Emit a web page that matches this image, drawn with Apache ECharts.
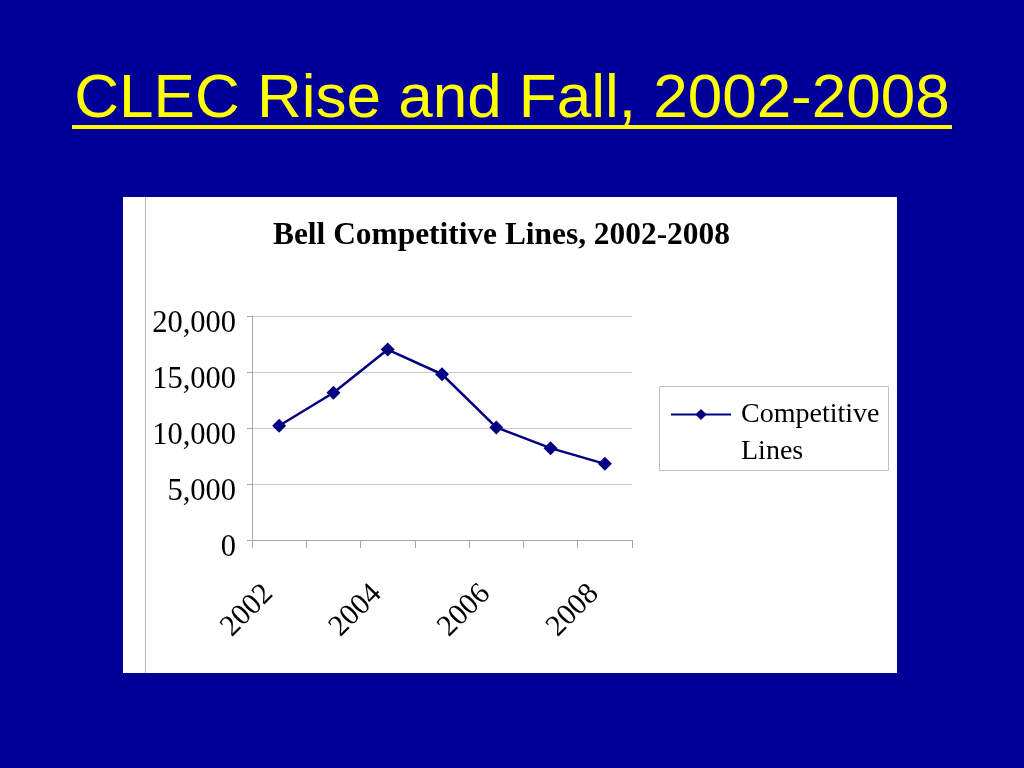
<!DOCTYPE html>
<html><head><meta charset="utf-8">
<script src="https://cdn.jsdelivr.net/npm/echarts@6/dist/echarts.min.js"></script>
<style>html,body{margin:0;padding:0;background:#000099;}#c{width:1024px;height:768px;}</style>
</head><body><div id="c"></div>
<script>
const slideTitle = 'CLEC Rise and Fall, 2002-2008';
const chartTitle = 'Bell Competitive Lines, 2002-2008';
const seriesName = 'Competitive Lines';
const categories = ['2002', '2003', '2004', '2005', '2006', '2007', '2008'];
const lineValues = [10200, 13150, 17000, 14800, 10050, 8200, 6800];
const yMin = 0;
const yMax = 20000;
const yStep = 5000;

const chart = echarts.init(document.getElementById('c'), null, {renderer: 'canvas'});
const serif = 'Liberation Serif, Times New Roman, serif';
chart.setOption({
  backgroundColor: '#000099',
  animation: false,
  graphic: [
    {type: 'rect', z: -10, shape: {x: 123, y: 197, width: 774, height: 476}, style: {fill: '#ffffff'}},
    {type: 'line', z: -9, shape: {x1: 145.5, y1: 197, x2: 145.5, y2: 673}, style: {stroke: '#b4b4b4', lineWidth: 1}},
    {type: 'rect', shape: {x: 72, y: 125, width: 880, height: 4}, style: {fill: '#FFFF00'}},
    {type: 'rect', z: -8, shape: {x: 659.5, y: 386.5, width: 229, height: 84}, style: {fill: '#ffffff', stroke: '#c0c0c0', lineWidth: 1}}
  ],
  title: [
    {text: slideTitle, left: 'center', top: 69, padding: 0,
     textStyle: {color: '#FFFF00', fontSize: 62, fontFamily: 'Liberation Sans, Arial, sans-serif', fontWeight: 'normal'}},
    {text: chartTitle, left: 273, top: 220, padding: 0,
     textStyle: {color: '#000000', fontSize: 31.4, fontFamily: serif, fontWeight: 'bold'}}
  ],
  legend: {
    left: 670, top: 359, padding: 0,
    itemWidth: 60, itemHeight: 14,
    data: [seriesName],
    formatter: n => '\n' + n.replace(' ', '\n'),
    textStyle: {fontFamily: serif, fontSize: 28, color: '#000', lineHeight: 37, padding: [0, 0, 0, 5]}
  },
  grid: {left: 252, right: 392, top: 316, bottom: 228},
  xAxis: {
    type: 'category', data: categories, boundaryGap: true,
    axisLine: {lineStyle: {color: '#a8a8a8', width: 1}},
    axisTick: {show: true, interval: 0, length: 8, lineStyle: {color: '#a8a8a8'}},
    axisLabel: {interval: 1, rotate: 45, margin: 60, verticalAlign: 'bottom', fontFamily: serif, fontSize: 30, color: '#000'},
    splitLine: {show: false}
  },
  yAxis: {
    type: 'value', min: yMin, max: yMax, interval: yStep,
    axisLine: {show: true, lineStyle: {color: '#a8a8a8', width: 1}},
    axisTick: {show: true, length: 5, lineStyle: {color: '#a8a8a8'}},
    axisLabel: {margin: 16, verticalAlign: 'top', lineHeight: 16, fontFamily: serif, fontSize: 30.5, color: '#000',
      formatter: v => v.toLocaleString('en-US')},
    splitLine: {lineStyle: {color: '#c8c8c8', width: 1}}
  },
  series: [{
    name: seriesName, type: 'line', data: lineValues,
    symbol: 'diamond', symbolSize: 14, showSymbol: true,
    lineStyle: {color: '#000080', width: 2.5},
    itemStyle: {color: '#000080'}
  }]
});
</script>
</body></html>
